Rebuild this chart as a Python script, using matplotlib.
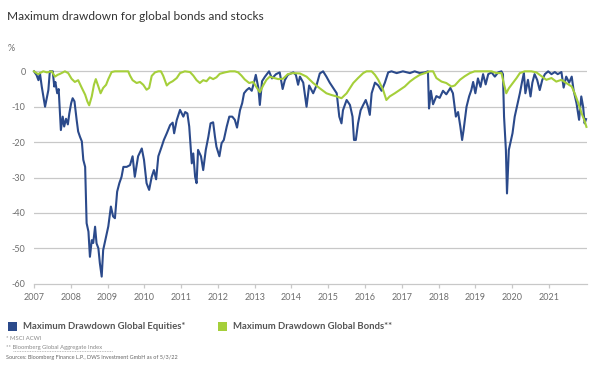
import matplotlib
matplotlib.use("Agg")
import matplotlib.pyplot as plt
from matplotlib.lines import Line2D

# ---- data (x in chart-year units, values in %) ----
eq_x = [2007.00, 2007.07, 2007.12, 2007.16, 2007.21, 2007.30, 2007.39, 2007.43, 2007.51, 2007.55,
        2007.58, 2007.63, 2007.67, 2007.73, 2007.78, 2007.82, 2007.87, 2007.92, 2007.96, 2008.01,
        2008.05, 2008.10, 2008.16, 2008.20, 2008.25, 2008.30, 2008.34, 2008.39, 2008.43, 2008.48,
        2008.52, 2008.57, 2008.61, 2008.66, 2008.70, 2008.75, 2008.79, 2008.84, 2008.88, 2008.96,
        2009.02, 2009.09, 2009.15, 2009.20, 2009.26, 2009.32, 2009.38, 2009.43, 2009.52, 2009.61,
        2009.68, 2009.74, 2009.83, 2009.93, 2009.99, 2010.06, 2010.13, 2010.20, 2010.26, 2010.32,
        2010.38, 2010.47, 2010.53, 2010.61, 2010.70, 2010.77, 2010.81, 2010.88, 2010.97, 2011.06,
        2011.11, 2011.17, 2011.22, 2011.29, 2011.33, 2011.38, 2011.42, 2011.46, 2011.54, 2011.60,
        2011.67, 2011.74, 2011.80, 2011.87, 2011.92, 2011.96, 2012.04, 2012.10, 2012.16, 2012.24,
        2012.31, 2012.39, 2012.46, 2012.52, 2012.60, 2012.66, 2012.71, 2012.78, 2012.85, 2012.92,
        2012.98, 2013.03, 2013.10, 2013.14, 2013.20, 2013.28, 2013.39, 2013.47, 2013.58, 2013.68,
        2013.76, 2013.82, 2013.90, 2014.05, 2014.12, 2014.18, 2014.23, 2014.32, 2014.41, 2014.48,
        2014.59, 2014.68, 2014.77, 2014.86, 2014.95, 2015.04, 2015.13, 2015.23, 2015.30, 2015.36,
        2015.40, 2015.50, 2015.59, 2015.66, 2015.70, 2015.75, 2015.81, 2015.88, 2015.95, 2016.02,
        2016.08, 2016.13, 2016.18, 2016.27, 2016.36, 2016.45, 2016.54, 2016.63, 2016.72, 2016.86,
        2017.03, 2017.22, 2017.35, 2017.49, 2017.63, 2017.71, 2017.74, 2017.79, 2017.85, 2017.94,
        2018.03, 2018.12, 2018.21, 2018.32, 2018.39, 2018.47, 2018.53, 2018.59, 2018.64, 2018.68,
        2018.76, 2018.83, 2018.89, 2018.94, 2019.00, 2019.07, 2019.14, 2019.21, 2019.28, 2019.35,
        2019.44, 2019.53, 2019.62, 2019.71, 2019.75, 2019.78, 2019.83, 2019.86, 2019.91, 2019.95,
        2020.01, 2020.07, 2020.13, 2020.21, 2020.28, 2020.32, 2020.36, 2020.43, 2020.50, 2020.55,
        2020.61, 2020.68, 2020.75, 2020.82, 2020.89, 2020.98, 2021.07, 2021.16, 2021.24, 2021.34,
        2021.40, 2021.47, 2021.55, 2021.62, 2021.67, 2021.75, 2021.82, 2021.88, 2021.93, 2021.97,
        2022.01]
eq_y = [0, -1.1, -2.5, -0.5, -4.3, -10, -5.3, 0, 0, -4.3,
        -3, -6.2, -5, -16.6, -12.8, -15.6, -13.4, -15, -11.9, -9,
        -7.6, -8.5, -13.8, -17, -18.5, -19.8, -25, -27, -42.9, -45.3,
        -52.4, -47.7, -48.5, -43.9, -48.6, -50, -54.2, -58, -50.5, -46.7,
        -43.8, -38.2, -41, -41.5, -34, -31.6, -29.8, -27, -27, -26.5,
        -24, -29.8, -24, -21.8, -25, -31.6, -33.5, -29.8, -27.9, -30.5,
        -24, -21.3, -19.4, -17.5, -15.2, -14.5, -17.5, -13.8, -10.9, -12.8,
        -11.5, -11.9, -15.6, -26, -23.2, -29.8, -31.6, -22.2, -24, -27.9,
        -22.2, -18.5, -14.7, -14.4, -18.5, -21.3, -24, -20.3, -19.4, -15.6,
        -12.8, -12.8, -13.7, -15.9, -11, -9, -6.2, -5.3, -4.7, -5.5,
        -3.2, -1.0, -4.7, -9.5, -2.8, -1.5, 0, -2, -0.8, -0.3,
        -5, -2.5, -1.0, -0.3, -1, -3.8, -1.5, -3.2, -10, -4,
        -6.2, -4, -0.6, 0, -1.5, -3.2, -4.6, -6.2, -12.8, -14.7,
        -11, -8.1, -9.5, -12.8, -19.4, -19.4, -14.7, -11, -9.5, -8.1,
        -10, -12.3, -6.2, -3.2, -4, -5.5, -3.2, -0.3, 0, -0.5,
        0, -0.5, 0, -0.5, -0.3, 0, -10.5, -5.5, -9.3, -7,
        -7.5, -5.5, -6.5, -4.7, -6.2, -12.8, -11.5, -15.5, -19.4, -16.6,
        -10, -7.1, -5.3, -3, -6.2, -2, -4.4, -0.8, -3.7, -0.8,
        -0.3, -1.5, -0.3, 0, -0.8, -12.8, -22.2, -34.5, -22.2, -20.3,
        -17.5, -12.8, -10, -6.2, -2.4, -0.5, -6.2, -2.4, -7.1, -3.2,
        -0.8, -2.4, -5.3, -2.4, -0.8, 0, -0.8, -0.2, -0.8, -0.2,
        -4.6, -1.5, -3.2, -1.5, -5.3, -9, -13.7, -7.1, -10, -14.7,
        -13.5]

bd_x = [2007.00, 2007.11, 2007.25, 2007.35, 2007.48, 2007.57, 2007.64, 2007.71, 2007.84, 2007.93,
        2008.02, 2008.11, 2008.20, 2008.30, 2008.39, 2008.45, 2008.50, 2008.57, 2008.63, 2008.68,
        2008.75, 2008.81, 2008.88, 2008.96, 2009.02, 2009.11, 2009.20, 2009.34, 2009.47, 2009.56,
        2009.61, 2009.68, 2009.79, 2009.88, 2009.97, 2010.06, 2010.13, 2010.20, 2010.29, 2010.38,
        2010.45, 2010.51, 2010.61, 2010.68, 2010.77, 2010.88, 2010.97, 2011.10, 2011.24, 2011.33,
        2011.42, 2011.51, 2011.60, 2011.69, 2011.78, 2011.87, 2011.96, 2012.05, 2012.19, 2012.33,
        2012.46, 2012.55, 2012.64, 2012.73, 2012.85, 2012.96, 2013.05, 2013.14, 2013.23, 2013.32,
        2013.41, 2013.50, 2013.64, 2013.77, 2013.90, 2014.04, 2014.23, 2014.41, 2014.59, 2014.77,
        2014.95, 2015.09, 2015.23, 2015.36, 2015.50, 2015.68, 2015.81, 2015.95, 2016.04, 2016.18,
        2016.27, 2016.36, 2016.49, 2016.58, 2016.67, 2016.81, 2016.95, 2017.08, 2017.22, 2017.35,
        2017.49, 2017.63, 2017.76, 2017.85, 2017.94, 2018.08, 2018.21, 2018.35, 2018.44, 2018.58,
        2018.71, 2018.85, 2018.98, 2019.17, 2019.44, 2019.57, 2019.71, 2019.77, 2019.84, 2019.91,
        2020.02, 2020.12, 2020.21, 2020.34, 2020.52, 2020.66, 2020.80, 2020.93, 2021.07, 2021.20,
        2021.34, 2021.47, 2021.62, 2021.70, 2021.80, 2021.89, 2021.97, 2022.02]
bd_y = [0, -0.8, 0, -0.3, 0, -1.5, -1.0, -0.7, 0, -0.5,
        -2.1, -3, -2.5, -4.7, -6.6, -8.5, -9.6, -7.1, -3.8, -2.2,
        -4.3, -6.2, -4.7, -3.8, -2.2, -0.2, 0, 0, 0, 0,
        -1.2, -2.5, -3.3, -3.0, -3.8, -5.2, -4.7, -1.3, -0.3, 0,
        0, -1.2, -4, -3.3, -2.8, -1.9, -0.5, 0, -0.2, -1.2,
        -2.5, -3.3, -2.5, -2.8, -1.7, -2.2, -1.7, -0.7, -0.3, 0,
        0, -0.3, -1.2, -2.3, -3.3, -3.0, -4.5, -5.9, -4, -2.4,
        -1.5, -1.8, -2.2, -2.1, -0.8, -0.5, -0.6, -1.5, -3.3, -4.8,
        -6.2, -6.7, -7.1, -7.6, -6.2, -3.3, -1.9, -0.5, 0, 0,
        -1, -2.4, -5.2, -8.1, -7.1, -6.2, -5.2, -4.3, -2.9, -1.9,
        -1, -0.5, 0, 0, -1.9, -2.9, -3.3, -4.3, -4.0, -2.4,
        -1.4, -0.5, 0, 0, 0, -0.5, -0.5, -3.3, -6.2, -4.8,
        -3.3, -1.9, -0.5, 0, 0, -0.3, -1.4, -2.4, -1.9, -2.9,
        -2.4, -3.3, -4.3, -6.2, -9, -11.9, -14.0, -15.7]

year_ticks = list(range(2007, 2022))
y_ticks = [0, -10, -20, -30, -40, -50, -60]

series_labels = ["Maximum Drawdown Global Equities*", "Maximum Drawdown Global Bonds**"]
title = "Maximum drawdown for global bonds and stocks"

BLUE = "#2b4a8b"
GREEN = "#a5cf3a"
GRID = "#c8c8c8"
TXT = "#6e6e6e"

plt.rcParams['font.family'] = ['Lato', 'DejaVu Sans']

fig = plt.figure(figsize=(6.0, 3.69), dpi=100)
ax = fig.add_axes([0.0567, 0.2312, 0.9213, 0.5851])

ax.plot(eq_x, eq_y, color=BLUE, lw=1.5, solid_joinstyle='round', zorder=3, clip_on=False)
ax.plot(bd_x, bd_y, color=GREEN, lw=1.5, solid_joinstyle='round', zorder=4, clip_on=False)

ax.set_xlim(2007, 2022.03)
ax.set_ylim(-60, 1)
ax.set_yticks(y_ticks)
ax.set_yticklabels([str(v) for v in y_ticks])
ax.set_xticks(year_ticks)
ax.set_xticklabels([str(y) for y in year_ticks])

for v in y_ticks[:-1]:
    ax.axhline(v, color=GRID, lw=0.9, zorder=1)

for s in ['top', 'right', 'left']:
    ax.spines[s].set_visible(False)
ax.spines['bottom'].set_color(GRID)
ax.spines['bottom'].set_linewidth(0.9)

ax.tick_params(axis='y', length=0, labelsize=6.5, labelcolor=TXT, pad=6)
ax.tick_params(axis='x', length=3, color=GRID, width=0.9, labelsize=6.5, labelcolor=TXT, pad=4)

fig.text(0.012, 0.955, title, fontsize=8.6, color="#333333", ha='left', va='center')
fig.text(0.012, 0.868, "%", fontsize=6.5, color=TXT, ha='left', va='center')

# legend
fig.patches.append(plt.Rectangle((0.013, 0.103), 0.015, 0.025, transform=fig.transFigure,
                                 facecolor=BLUE, edgecolor='none'))
fig.text(0.038, 0.116, series_labels[0], fontsize=6.8, color="#555555", fontweight='bold',
         ha='left', va='center')
fig.patches.append(plt.Rectangle((0.363, 0.103), 0.015, 0.025, transform=fig.transFigure,
                                 facecolor=GREEN, edgecolor='none'))
fig.text(0.388, 0.116, series_labels[1], fontsize=6.8, color="#555555", fontweight='bold',
         ha='left', va='center')

fig.text(0.010, 0.082, "* MSCI ACWI", fontsize=4.2, color="#888888", ha='left', va='center')
fig.text(0.010, 0.058, "** Bloomberg Global Aggregate Index", fontsize=4.2, color="#888888",
         ha='left', va='center')
fig.lines.append(Line2D([0.022, 0.188], [0.049, 0.049], transform=fig.transFigure,
                        color="#aaaaaa", lw=0.6, ls=(0, (1, 1))))
fig.text(0.010, 0.030, "Sources: Bloomberg Finance L.P., DWS Investment GmbH as of 5/3/22",
         fontsize=4.0, color="#666666", ha='left', va='center')

fig.savefig("out.png", dpi=100)
